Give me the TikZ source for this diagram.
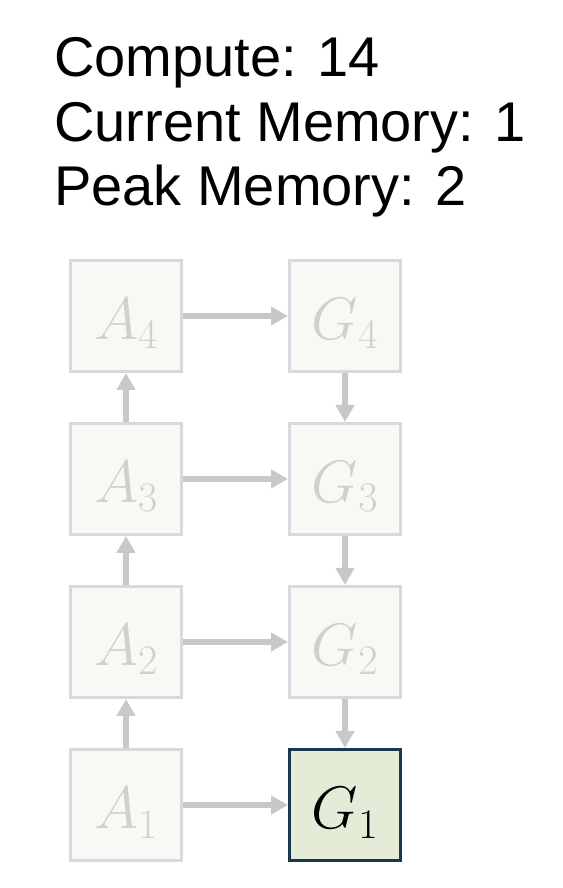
\documentclass[tikz,border=0pt]{standalone}
\usepackage{fix-cm}
\usepackage{fontspec}
\setmainfont{Liberation Sans}
\usetikzlibrary{arrows.meta,calc}

\definecolor{boxfill}{RGB}{248,248,245}
\definecolor{boxline}{RGB}{214,218,222}
\definecolor{fadetext}{RGB}{208,208,208}
\definecolor{arrowgray}{RGB}{200,200,200}
\definecolor{curfill}{RGB}{228,236,216}
\definecolor{curline}{RGB}{25,55,80}

\tikzset{
    cell/.style={draw=boxline,fill=boxfill,line width=3pt,minimum size=111pt,inner sep=0pt,
        text height=48pt,text depth=0pt,text=fadetext,font=\fontsize{60}{60}\selectfont},
    current/.style={cell,draw=curline,fill=curfill,text=black},
    flow/.style={draw=arrowgray,line width=6pt,-{Triangle[length=17pt,width=18pt]}},
    stat/.style={anchor=base west,inner sep=0pt,font=\fontsize{56}{56}\selectfont}
}

\begin{document}
\begin{tikzpicture}[x=1pt,y=1pt]
    \useasboundingbox (0,0) rectangle (562,888);
    \pgfmathsetmacro{\xa}{126}
    \pgfmathsetmacro{\xg}{345}
    \pgfmathsetmacro{\dy}{163}

    \node[stat] (compute) at (54,811) {Compute: 14};
    \node[stat] (curmem) at (54,746) {Current Memory: 1};
    \node[stat] (peakmem) at (54,682) {Peak Memory: 2};

    \foreach \i in {1,...,4}{
        \node[cell] (A\i) at (\xa,{83+(\i-1)*\dy}) {$A_{\i}$};
    }
    \foreach \i in {2,3,4}{
        \node[cell] (G\i) at (\xg,{83+(\i-1)*\dy}) {$G_{\i}$};
    }
    \node[current] (G1) at (\xg,83) {$G_1$};

    % \foreach \x in {A1,A2,A3,A4,G1,G2,G3,G4}{
    %     \filldraw (\x) circle (1pt);
    % }
    \foreach \i in {1,...,4}
        \draw[flow] (A\i) -- (G\i);
    \foreach \i/\j in {1/2,2/3,3/4}{
        \draw[flow] (A\i) -- (A\j);
        \draw[flow] (G\j) -- (G\i);
    }

\end{tikzpicture}
\end{document}
